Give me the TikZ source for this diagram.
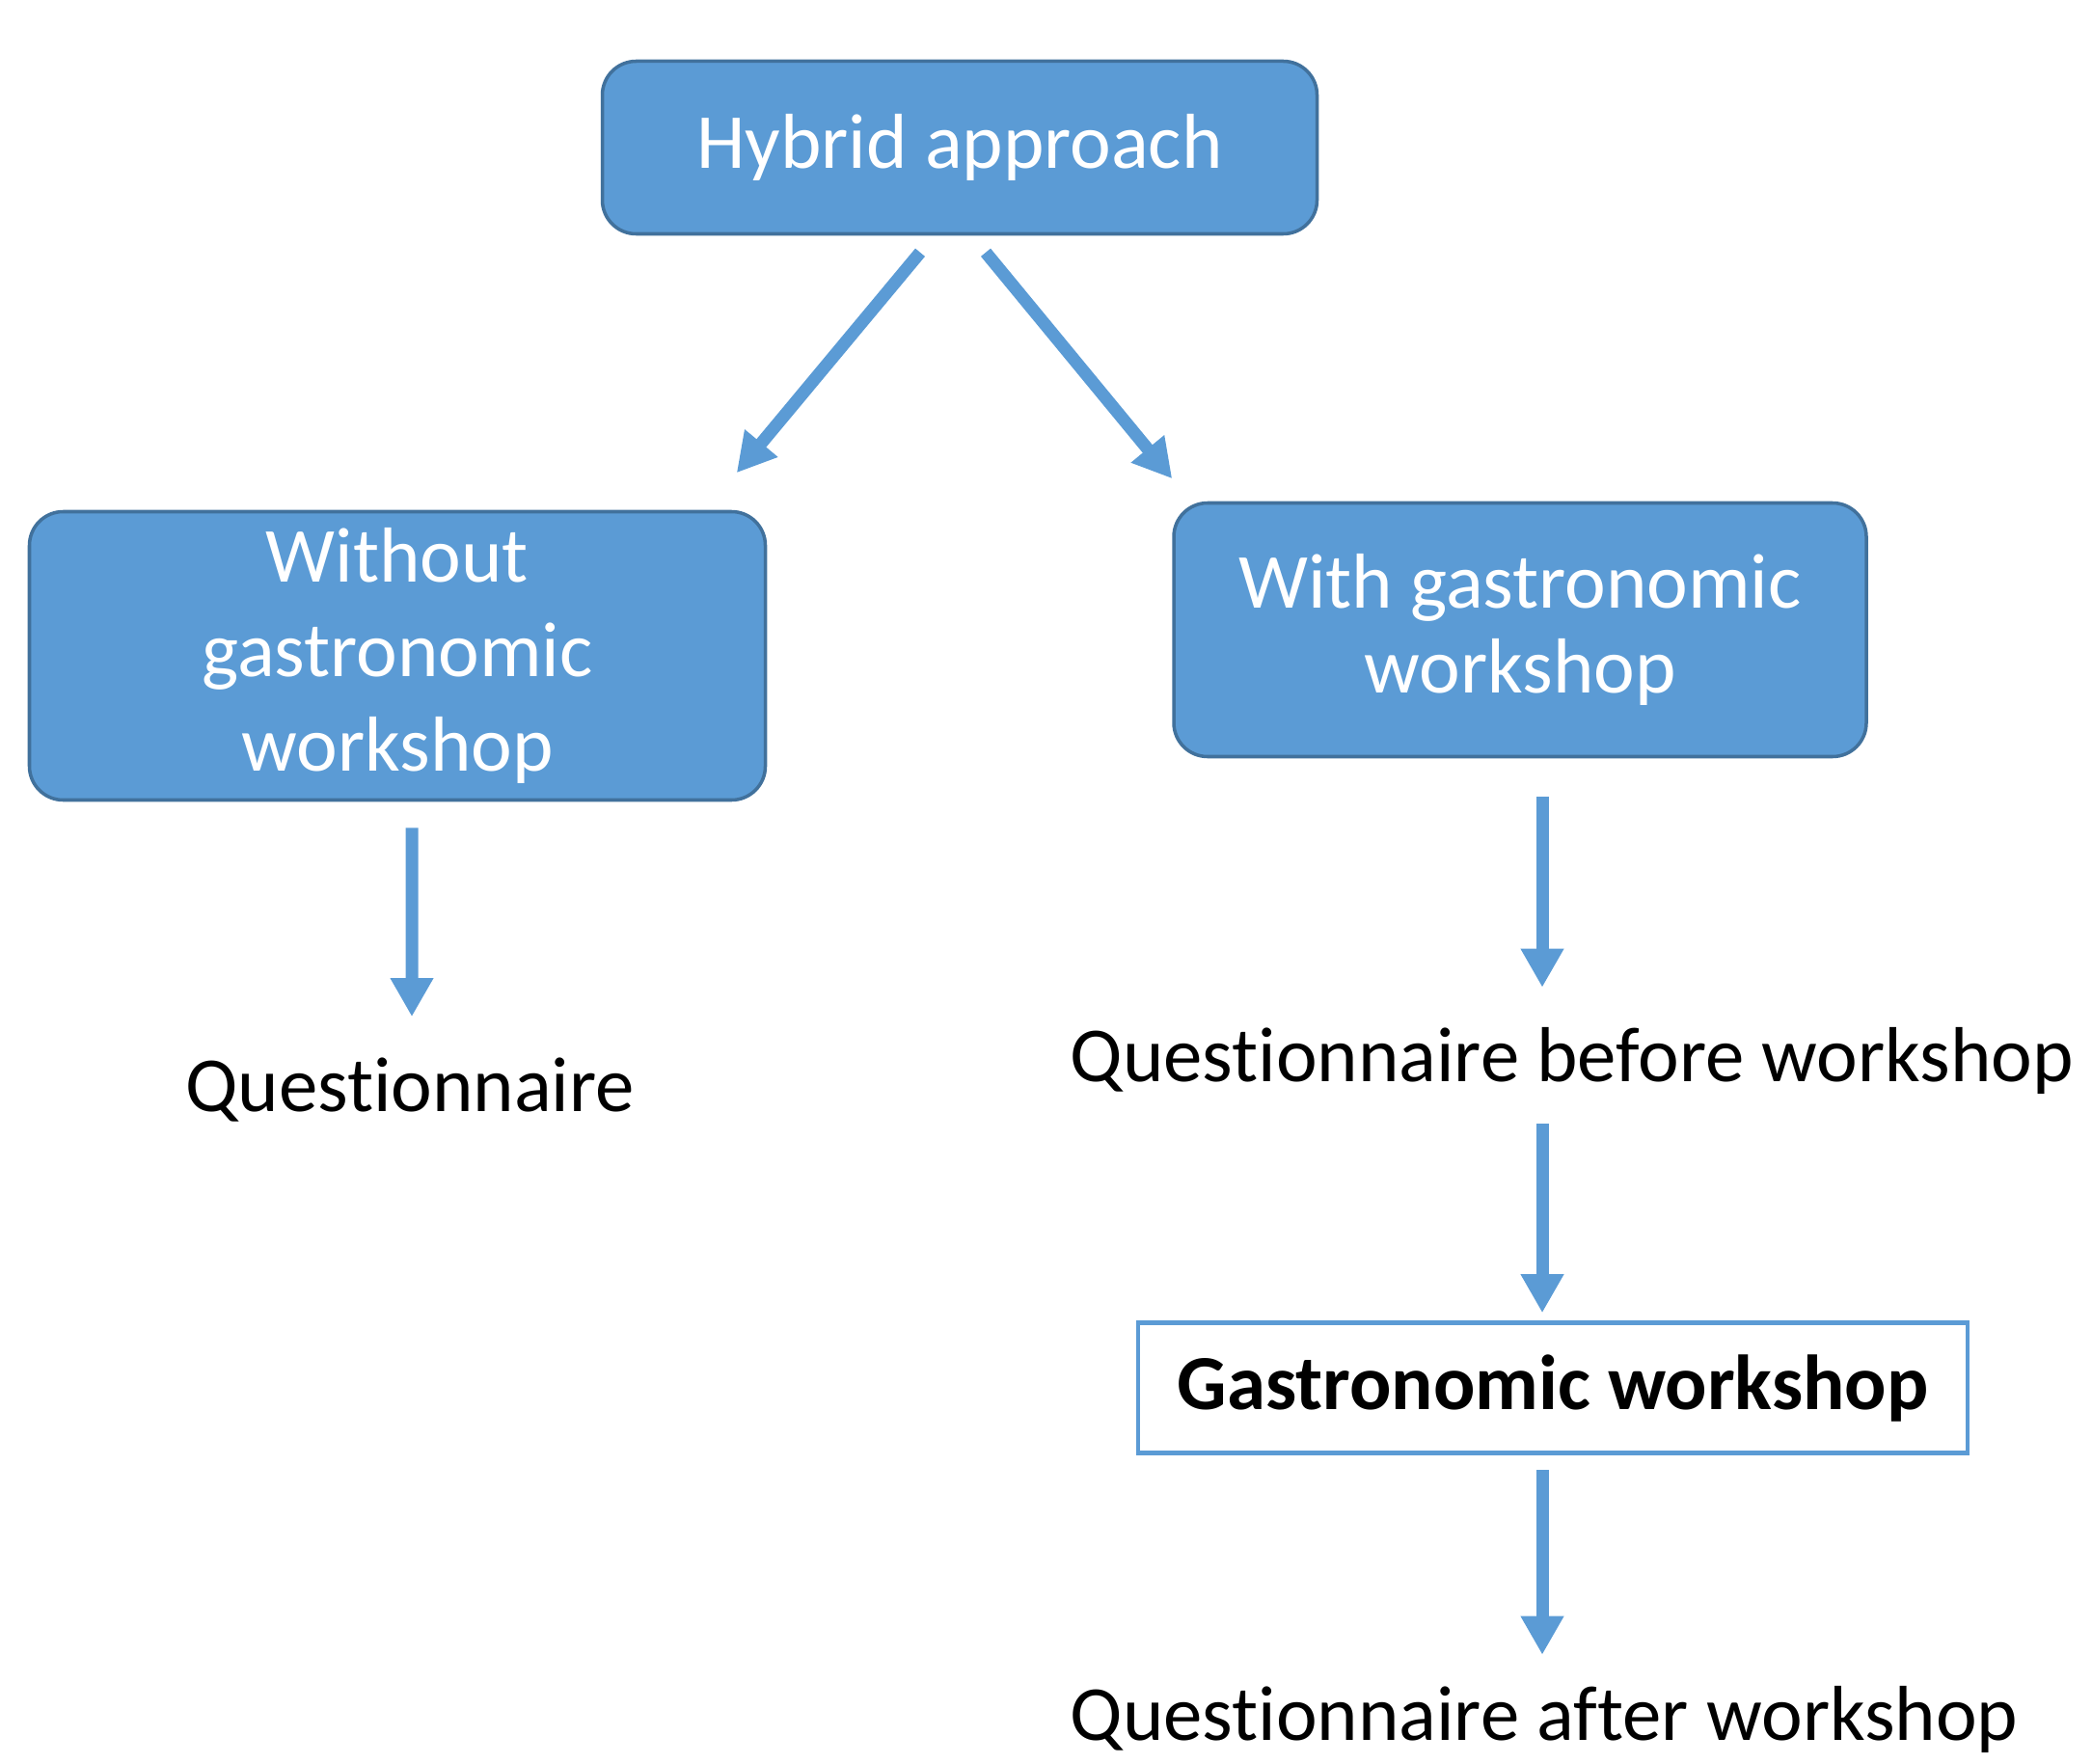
\documentclass[tikz,border=0pt]{standalone}
\usepackage{fontspec}
\setmainfont{Carlito}[Ligatures=NoCommon, RawFeature={-liga;-clig;-dlig;-calt}]
\usepackage{xcolor}
\usetikzlibrary{arrows.meta, positioning, calc}
\definecolor{boxblue}{HTML}{5B9BD5}
\definecolor{boxedge}{HTML}{41719C}

\begin{document}
\begin{tikzpicture}[
    font=\fontsize{23}{28}\selectfont,
    approach/.style={draw=boxedge, line width=1pt, rounded corners=0.35cm, fill=boxblue, text=white, align=center},
    workshop/.style={draw=boxblue, line width=1.3pt, fill=white, minimum width=8.6cm, minimum height=1.35cm, font=\fontsize{23}{28}\selectfont\bfseries},
    survey/.style={inner sep=0pt},
    arrow/.style={-{Triangle[length=0.4cm, width=0.42cm]}, line width=3.7pt, draw=boxblue}
]
\useasboundingbox (0,0) rectangle (21.69,-18.28);

\node[approach, minimum width=7.41cm, minimum height=1.79cm] (hybrid) at (9.95,-1.53) {Hybrid approach};
\node[approach, minimum width=7.63cm, minimum height=2.99cm] (without) at (4.12,-6.80) {Without\\gastronomic\\workshop};
\node[approach, minimum width=7.18cm, minimum height=2.63cm, font=\fontsize{23}{25}\selectfont] (with) at (15.76,-6.53) {With gastronomic\\workshop};

\node[survey] (q1) at (4.25,-11.30) {Questionnaire};
\node[survey, anchor=west] (qbefore) at (11.09,-11.00) {Questionnaire before workshop};
\node[workshop] (gastro) at (16.10,-14.39) {Gastronomic workshop};
\node[survey, anchor=west] (qafter) at (11.09,-17.83) {Questionnaire after workshop};

% split into the two groups
\draw[arrow] ([xshift=-0.41cm,yshift=-0.175cm]hybrid.south) -- ([xshift=-0.315cm,yshift=0.385cm]without.north east);
\draw[arrow] ([xshift=0.27cm,yshift=-0.175cm]hybrid.south) -- ([yshift=0.235cm]with.north west);

% left branch
\draw[arrow] ([xshift=0.15cm,yshift=-0.27cm]without.south) -- ($(q1.north)+(0.02,0.42)$);

% right branch
\draw[arrow] ([xshift=0.23cm,yshift=-0.395cm]with.south) -- ($(qbefore.north -| with.south)+(0.23,0.41)$);
\draw[arrow] ($(qbefore.south -| gastro.north)+(-0.11,-0.3)$) -- ([xshift=-0.11cm,yshift=0.08cm]gastro.north);
\draw[arrow] ([xshift=-0.11cm,yshift=-0.155cm]gastro.south) -- ($(qafter.north -| gastro.south)+(-0.11,0.32)$);

\end{tikzpicture}
\end{document}
